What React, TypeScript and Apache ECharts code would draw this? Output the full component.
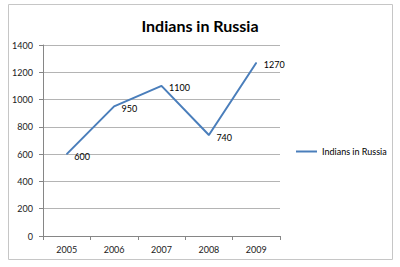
import React, { useEffect, useRef } from "react";
import * as echarts from "echarts";

const titleText = "Indians in Russia";
const seriesName = "Indians in Russia";
const years = ["2005", "2006", "2007", "2008", "2009"];
const values = [600, 950, 1100, 740, 1270];
const yMin = 0;
const yMax = 1400;
const yStep = 200;

const FONT = "Lato, 'Open Sans', sans-serif";

export default function App() {
  const ref = useRef<HTMLDivElement>(null);
  useEffect(() => {
    if (!ref.current) return;
    const chart = echarts.init(ref.current, undefined, { renderer: "svg" });
    chart.setOption({
      animation: false,
      backgroundColor: "#ffffff",
      textStyle: { fontFamily: FONT },
      title: {
        text: titleText,
        left: "center",
        top: 12,
        textStyle: { fontFamily: FONT, fontWeight: "bold", fontSize: 16, color: "#000" },
      },
      graphic: [
        {
          type: "rect",
          shape: { x: 8.5, y: 4.5, width: 384, height: 255 },
          style: { fill: "none", stroke: "#c6c6c6", lineWidth: 1 },
          z: 10,
        },
      ],
      legend: {
        data: [{ name: seriesName, icon: "rect" }],
        orient: "vertical",
        left: 291,
        top: 142,
        itemWidth: 21,
        itemHeight: 2,
        textStyle: { fontFamily: FONT, fontSize: 9, color: "#000" },
      },
      grid: { left: 43, right: 120, top: 45, bottom: 31, containLabel: false },
      xAxis: {
        type: "category",
        data: years,
        boundaryGap: true,
        axisLine: { lineStyle: { color: "#868686" } },
        axisTick: { show: true, length: 4, lineStyle: { color: "#868686" } },
        axisLabel: { fontFamily: FONT, fontSize: 9, color: "#222", margin: 9 },
        splitLine: { show: false },
      },
      yAxis: {
        type: "value",
        min: yMin,
        max: yMax,
        interval: yStep,
        axisLine: { show: true, lineStyle: { color: "#868686" } },
        axisTick: { show: true, length: 4, lineStyle: { color: "#868686" } },
        axisLabel: {
          fontFamily: FONT,
          fontSize: 9,
          color: "#222",
          margin: 10,
          formatter: (v: number) => String(v),
        },
        splitLine: { show: true, lineStyle: { color: "#b4b4b4", width: 1 } },
      },
      series: [
        {
          name: seriesName,
          type: "line",
          data: values,
          symbol: "circle",
          symbolSize: 1,
          showSymbol: true,
          lineStyle: { color: "#4a7ebb", width: 2 },
          itemStyle: { color: "#4a7ebb" },
          label: {
            show: true,
            position: "right",
            distance: 7,
            offset: [0, 2],
            fontFamily: FONT,
            fontSize: 9,
            color: "#000",
          },
        },
      ],
    });
    return () => chart.dispose();
  }, []);
  return (
    <div
      ref={ref}
      style={{ position: "absolute", left: 0, top: 0, width: 400, height: 267 }}
    />
  );
}
